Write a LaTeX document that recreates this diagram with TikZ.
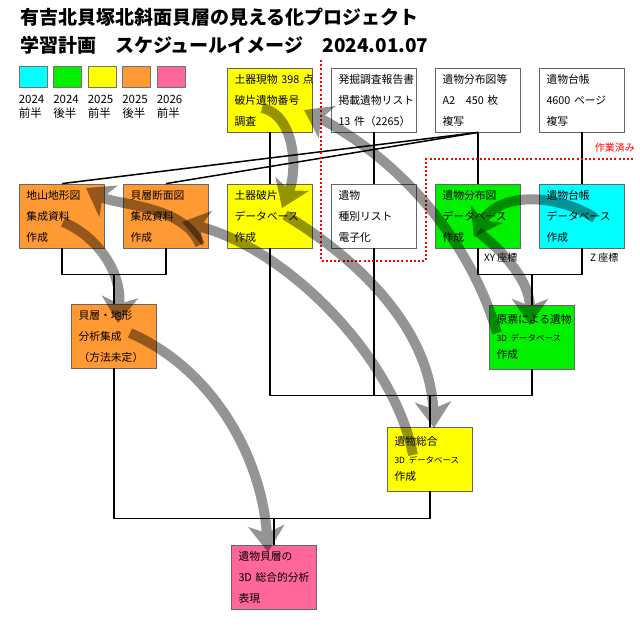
\documentclass[tikz,border=0pt]{standalone}
\usepackage{xcolor}
\usepackage{fontspec}
\setmainfont{Noto Sans CJK JP}
\usetikzlibrary{positioning,calc,arrows.meta}

\definecolor{h24a}{RGB}{0,255,255}
\definecolor{h24b}{RGB}{0,240,0}
\definecolor{h25a}{RGB}{255,255,0}
\definecolor{h25b}{RGB}{255,153,51}
\definecolor{h26a}{RGB}{255,102,153}

\tikzset{
  box/.style={draw=black!60, line width=0.8pt, rectangle, minimum width=85pt, minimum height=64pt,
    text width=71pt, inner xsep=7pt, align=left, font=\fontsize{10.8}{21}\selectfont},
  swatch/.style={draw=black!55, line width=0.8pt, minimum width=28pt, minimum height=21pt, inner sep=0pt},
  legtext/.style={inner sep=0pt, align=left, font=\fontsize{11.5}{14}\selectfont},
  note/.style={inner sep=0pt, font=\fontsize{10}{12}\selectfont},
  flow/.style={line width=10pt, -{Stealth[width=36pt,length=26pt,inset=7pt]}},
  faded/.style={transparency group, opacity=0.42},
  done/.style={red, line width=2pt, dash pattern=on 2pt off 2.2pt},
}

\begin{document}
\begin{tikzpicture}[x=1pt, y=-1pt, node distance=104pt]
    \useasboundingbox (0,0) rectangle (640,630);

    % Title
    \node[anchor=base west, inner sep=0pt, font=\fontsize{19}{19}\selectfont\bfseries] (title1) at (20,24) {有吉北貝塚北斜面貝層の見える化プロジェクト};
    \node[anchor=base west, inner sep=0pt, font=\fontsize{19}{19}\selectfont\bfseries] (title2) at (20,52) {学習計画　スケジュールイメージ　2024.01.07};

    % Legend
    \node[swatch, fill=h24a] (leg1) at (33,77) {};
    \node[swatch, fill=h24b, right of=leg1, node distance=34.5pt] (leg2) {};
    \node[swatch, fill=h25a, right of=leg2, node distance=34.5pt] (leg3) {};
    \node[swatch, fill=h25b, right of=leg3, node distance=34.5pt] (leg4) {};
    \node[swatch, fill=h26a, right of=leg4, node distance=34.5pt] (leg5) {};
    \node[legtext, below=7pt of leg1.south west, anchor=north west] (legtxt1) {2024\\前半};
    \node[legtext, below=7pt of leg2.south west, anchor=north west] (legtxt2) {2024\\後半};
    \node[legtext, below=7pt of leg3.south west, anchor=north west] (legtxt3) {2025\\前半};
    \node[legtext, below=7pt of leg4.south west, anchor=north west] (legtxt4) {2025\\後半};
    \node[legtext, below=7pt of leg5.south west, anchor=north west] (legtxt5) {2026\\前半};

    % Nodes
    \node[box, fill=h25b] (jiyama) at (62,216) {地山地形図\\集成資料\\作成};
    \node[box, fill=h25b, right of=jiyama] (kaiso) {貝層断面図\\集成資料\\作成};
    \node[box, fill=h25a, right of=kaiso] (dohen) {土器破片\\データベース\\作成};
    \node[box, right of=dohen] (ibutsu) {遺物\\種別リスト\\電子化};
    \node[box, fill=h24b, right of=ibutsu] (bunpudb) {遺物分布図\\データベース\\作成};
    \node[box, fill=h24a, right of=bunpudb] (daichodb) {遺物台帳\\データベース\\作成};

    \node[box, fill=h25a, above of=dohen, node distance=116pt] (genbutsu) {土器現物~398~点\\破片遺物番号\\調査};
    \node[box, right of=genbutsu] (hokoku) {発掘調査報告書\\掲載遺物リスト\\13~件（2265）};
    \node[box, right of=hokoku] (bunpu) {遺物分布図等\\A2　450~枚\\複写};
    \node[box, right of=bunpu] (daicho) {遺物台帳\\4600~ページ\\複写};

    \node[box, fill=h25b] (bunseki) at (114,336) {貝層・地形\\分析集成\\（方法未定）};
    \node[box, fill=h24b, font=\fontsize{10.8}{17.5}\selectfont] (genpyo) at (532,337) {原票による遺物\\{\fontsize{8.5}{17.5}\selectfont 3D~データベース}\\作成};
    \node[box, fill=h25a, font=\fontsize{10.8}{17.5}\selectfont] (sogo) at (430,459) {遺物総合\\{\fontsize{8.5}{17.5}\selectfont 3D~データベース}\\作成};
    \node[box, fill=h26a] (hyogen) at (274,577) {遺物貝層の\\3D~総合的分析\\表現};

    \node[note, anchor=west] (xy) at ($(bunpudb.south)+(6,9)$) {XY~座標};
    \node[note, anchor=west] (zcoord) at ($(daichodb.south)+(8,9)$) {Z~座標};
    \node[note, text=red, anchor=east] (sagyo) at (635,148) {作業済み};

    % Connection
    \draw[line width=1.5pt] (genbutsu) -- (dohen);
    \draw[line width=1.5pt] (hokoku) -- (ibutsu);
    \draw[line width=1.5pt] (bunpu) -- (bunpudb);
    \draw[line width=1.5pt] (daicho) -- (daichodb);
    \draw[line width=1.5pt] (bunpu.south) -- (jiyama.north);
    \draw[line width=1.5pt] (bunpu.south) -- (kaiso.north);
    \draw[line width=1.5pt] (jiyama.south) -- ++(0,26) -| (kaiso.south);
    \draw[line width=1.5pt] (bunseki.north) -- ++(0,-30);
    \draw[line width=1.5pt] (bunpudb.south) -- ++(0,26) -| (daichodb.south);
    \draw[line width=1.5pt] (genpyo.north) -- ++(0,-31);
    \draw[line width=1.5pt] (dohen.south) -- ++(0,147) -| (genpyo.south);
    \draw[line width=1.5pt] (ibutsu.south) -- ++(0,147);
    \draw[line width=1.5pt] (sogo.north) -- ++(0,-32);
    \draw[line width=1.5pt] (bunseki.south) -- ++(0,150) -| (sogo.south);
    \draw[line width=1.5pt] (hyogen.north) -- ++(0,-27);

    % done area
    \draw[done] (321,60) -- (321,261) -- (426,261) -- (426,159) -- (634,159);

    % Order of work
    \begin{scope}[faded] \draw[flow] ($(daichodb)+(13,2)$) .. controls (560,195) and (500,190) .. ($(bunpudb)+(-4,21)$); \end{scope}
    \begin{scope}[faded] \draw[flow] ($(bunpudb)+(0,16)$) .. controls (500,248) and (530,280) .. ($(genpyo)+(-2,-12)$); \end{scope}
    \begin{scope}[faded] \draw[flow] ($(genpyo)+(-35,-4)$) .. controls (470,240) and (400,160) .. ($(genbutsu)+(34,10)$); \end{scope}
    \begin{scope}[faded] \draw[flow] ($(genbutsu)+(-8,8)$) .. controls (295,115) and (298,170) .. ($(dohen)+(12,-8)$); \end{scope}
    \begin{scope}[faded] \draw[flow] ($(dohen)+(15,-1)$) .. controls (360,260) and (430,330) .. ($(sogo)+(4,-31)$); \end{scope}
    \begin{scope}[faded] \draw[flow] ($(sogo)+(-17,-4)$) .. controls (395,360) and (290,250) .. ($(kaiso)+(16,6)$); \end{scope}
    \begin{scope}[faded] \draw[flow] ($(kaiso)+(34,29)$) .. controls (185,205) and (115,205) .. ($(jiyama)+(24,-28)$); \end{scope}
    \begin{scope}[faded] \draw[flow] ($(jiyama)+(1,6)$) .. controls (95,235) and (122,270) .. ($(bunseki)+(4,-13)$); \end{scope}
    \begin{scope}[faded] \draw[flow] ($(bunseki)+(16,-3)$) .. controls (215,370) and (262,460) .. ($(hyogen)+(-6,-25)$); \end{scope}
\end{tikzpicture}
\end{document}
